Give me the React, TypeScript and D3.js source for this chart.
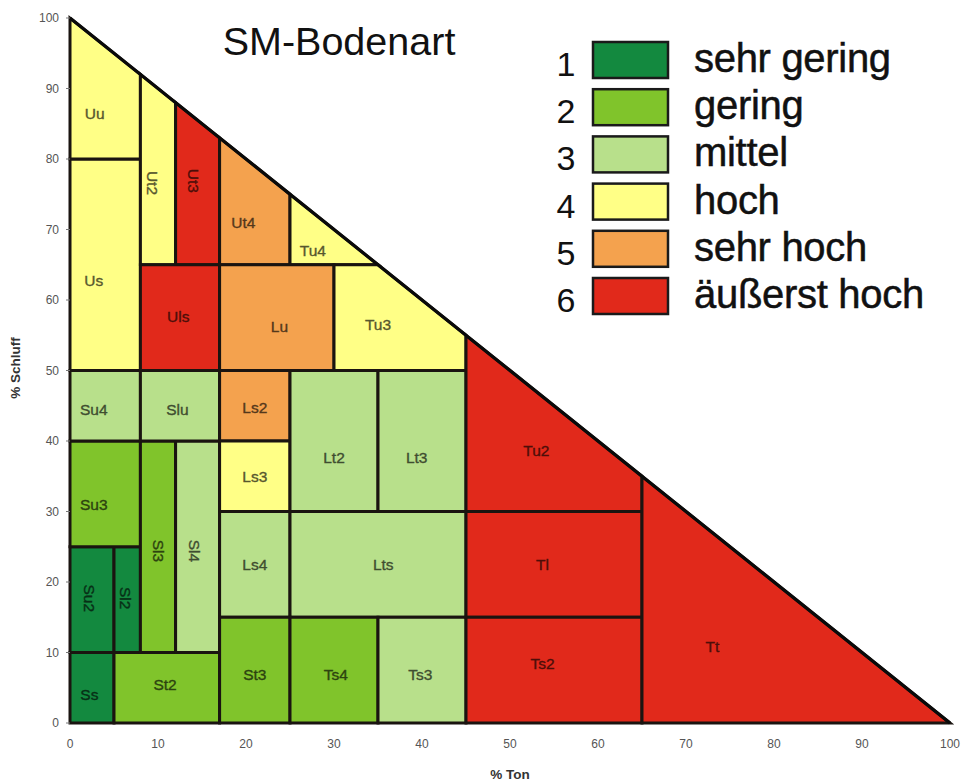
import React from 'react';
import * as d3 from 'd3';

// ---- data ----
const classNumbers = ['1', '2', '3', '4', '5', '6'];
const classLabels = ['sehr gering', 'gering', 'mittel', 'hoch', 'sehr hoch', 'äußerst hoch'];
const classColors = ['#13893f', '#80c42b', '#b8e08b', '#ffff86', '#f4a24e', '#e1291b'];

// soil texture classes (KA5): Ton range, Schluff range, class 1..6
const cellNames = ['Ss', 'Su2', 'Sl2', 'St2', 'Su3', 'Sl3', 'Sl4', 'Su4', 'Slu', 'Us', 'Uu', 'Ut2', 'Ut3', 'Uls', 'Ut4', 'Tu4', 'Lu', 'Tu3', 'Ls2', 'Ls3', 'Ls4', 'Lt2', 'Lt3', 'Lts', 'St3', 'Ts4', 'Ts3', 'Tu2', 'Tl', 'Ts2', 'Tt'];
const cellTon = [[0, 5], [0, 5], [5, 8], [5, 17], [0, 8], [8, 12], [12, 17], [0, 8], [8, 17], [0, 8], [0, 8], [8, 12], [12, 17], [8, 17], [17, 25], [25, 35], [17, 30], [30, 45], [17, 25], [17, 25], [17, 25], [25, 35], [35, 45], [25, 45], [17, 25], [25, 35], [35, 45], [45, 65], [45, 65], [45, 65], [65, 100]];
const cellSchluff = [[0, 10], [10, 25], [10, 25], [0, 10], [25, 40], [10, 40], [10, 40], [40, 50], [40, 50], [50, 80], [80, 100], [65, 100], [65, 100], [50, 65], [65, 100], [65, 100], [50, 65], [50, 65], [40, 50], [30, 40], [15, 30], [30, 50], [30, 50], [15, 30], [0, 15], [0, 15], [0, 15], [30, 100], [15, 30], [0, 15], [0, 100]];
const cellClass = [1, 1, 1, 2, 2, 2, 3, 3, 3, 4, 4, 4, 6, 6, 5, 4, 5, 4, 5, 4, 3, 3, 3, 3, 2, 2, 3, 6, 6, 6, 6];
// label anchor (Ton %, Schluff %) and orientation
const cellLabelTon = [2.2, 2.2, 6.25, 10.8, 2.7, 10.1, 14.1, 2.7, 12.2, 2.7, 2.8, 9.4, 14.0, 12.3, 19.7, 27.6, 23.8, 35.0, 21.0, 21.0, 21.0, 30.0, 39.4, 35.6, 21.0, 30.2, 39.8, 53.0, 53.7, 53.7, 73.0];
const cellLabelSchluff = [4.0, 17.7, 17.7, 5.5, 31.0, 24.4, 24.4, 44.5, 44.5, 62.7, 86.5, 76.6, 76.9, 57.7, 71.0, 67.0, 56.3, 56.5, 44.7, 35.0, 22.5, 37.7, 37.7, 22.5, 6.8, 6.8, 6.8, 38.7, 22.5, 8.5, 10.8];
const cellRotated = ['Su2', 'Sl2', 'Sl3', 'Sl4', 'Ut2', 'Ut3'];

const axisTicks = [0, 10, 20, 30, 40, 50, 60, 70, 80, 90, 100];

const title = 'SM-Bodenart';
const xTitle = '% Ton';
const yTitle = '% Schluff';

// clip rectangle to triangle Ton + Schluff <= 100
function clipToTriangle(pts: number[][]): number[][] {
  const inside = (p: number[]) => p[0] + p[1] <= 100 + 1e-9;
  const out: number[][] = [];
  for (let i = 0; i < pts.length; i++) {
    const p = pts[i];
    const q = pts[(i + 1) % pts.length];
    const pin = inside(p), qin = inside(q);
    if (pin) out.push(p);
    if (pin !== qin) {
      const sp = p[0] + p[1] - 100, sq = q[0] + q[1] - 100;
      const t = sp / (sp - sq);
      out.push([p[0] + t * (q[0] - p[0]), p[1] + t * (q[1] - p[1])]);
    }
  }
  return out;
}

export default function App() {
  const W = 963, H = 783;
  const x = d3.scaleLinear().domain([0, 100]).range([70, 950]);
  const y = d3.scaleLinear().domain([0, 100]).range([723, 18]);
  const line = d3.line<number[]>().x(d => x(d[0])).y(d => y(d[1]));

  const legendY = d3.scalePoint<string>().domain(classNumbers).range([60, 296]);
  const boxX = 593, boxW = 75, boxH = 36;

  const cells = cellNames.map((name, i) => {
    const [t0, t1] = cellTon[i];
    const [s0, s1] = cellSchluff[i];
    const poly = clipToTriangle([[t0, s0], [t1, s0], [t1, s1], [t0, s1]]);
    const fill = classColors[cellClass[i] - 1];
    return { name, poly, fill, lx: cellLabelTon[i], ly: cellLabelSchluff[i], rot: cellRotated.includes(name) };
  });

  const font = "'Liberation Sans', Arial, sans-serif";

  return (
    <svg width={W} height={H} style={{ position: 'absolute', left: 0, top: 0, background: '#fff' }} fontFamily={font}>
      <rect x={0} y={0} width={W} height={H} fill="#fff" />
      {/* cells */}
      <g>
        {cells.map(c => (
          <path key={c.name + c.lx} d={line(c.poly)! + 'Z'} fill={c.fill} stroke="#1a1410" strokeWidth={3} strokeLinejoin="miter" />
        ))}
      </g>
      {/* hypotenuse */}
      <path d={line([[0, 100], [100, 0]])!} stroke="#0a0a0a" strokeWidth={3.2} fill="none" />
      {/* cell labels */}
      <g fontSize={15.5} textAnchor="middle">
        {cells.map(c => {
          const col = d3.color(c.fill)!.darker(3).formatHex();
          const px = x(c.lx), py = y(c.ly);
          return (
            <text key={'l' + c.name + c.lx} x={px} y={py} dy="0.35em" fill={col} stroke={col} strokeWidth={0.35}
              transform={c.rot ? `rotate(90 ${px} ${py})` : undefined}>{c.name}</text>
          );
        })}
      </g>
      {/* y axis ticks */}
      <g fontSize={12} fill="#555">
        {axisTicks.map(t => (
          <g key={'y' + t}>
            <line x1={x(0) - 4} x2={x(0)} y1={y(t)} y2={y(t)} stroke="#777" strokeWidth={1} />
            <text x={x(0) - 11} y={y(t)} dy="0.35em" textAnchor="end">{t}</text>
          </g>
        ))}
      </g>
      {/* x axis ticks */}
      <g fontSize={12} fill="#555" textAnchor="middle">
        {axisTicks.map(t => (
          <text key={'x' + t} x={x(t)} y={y(0) + 25}>{t}</text>
        ))}
      </g>
      <text x={510} y={779} fontSize={13.5} fontWeight="bold" textAnchor="middle" fill="#333">{xTitle}</text>
      <text transform={`translate(20 ${368}) rotate(-90)`} fontSize={13.5} fontWeight="bold" textAnchor="middle" fill="#333">{yTitle}</text>
      {/* title */}
      <text x={339} y={55} fontSize={39.5} textAnchor="middle" fill="#111">{title}</text>
      {/* legend */}
      <g>
        {classNumbers.map((n, i) => {
          const cy = legendY(n)!;
          return (
            <g key={'lg' + n}>
              <text x={566} y={cy + 16} fontSize={34} textAnchor="middle" fill="#111">{n}</text>
              <rect x={boxX} y={cy - boxH / 2} width={boxW} height={boxH} fill={classColors[i]} stroke="#1a1a1a" strokeWidth={2.5} />
              <text x={694} y={cy + 12} fontSize={40} fill="#111" stroke="#111" strokeWidth={0.5} letterSpacing={-0.3}>{classLabels[i]}</text>
            </g>
          );
        })}
      </g>
    </svg>
  );
}
